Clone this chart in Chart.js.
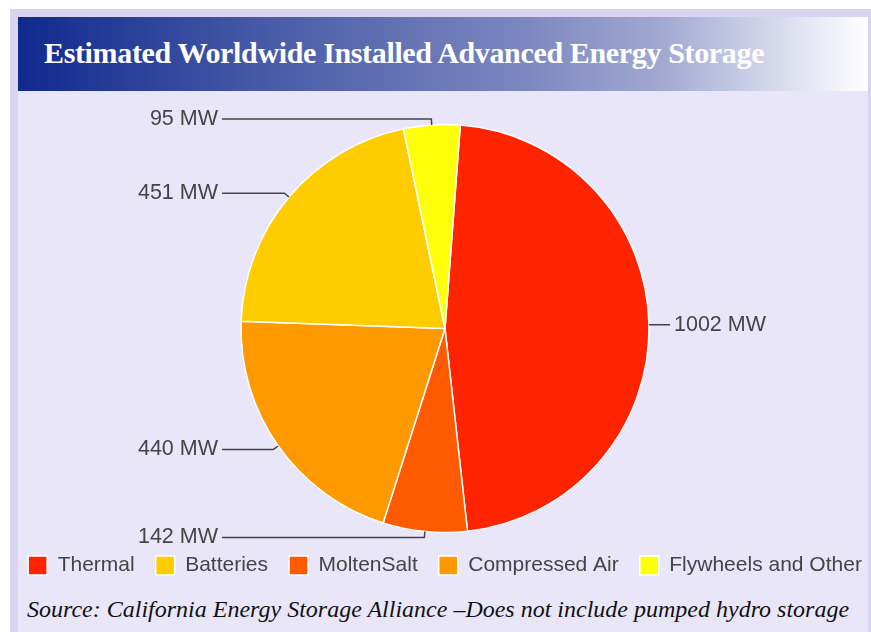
<!DOCTYPE html>
<html>
<head>
<meta charset="utf-8">
<script src="https://cdn.jsdelivr.net/npm/chart.js@4"></script>
<style>
    body { margin: 0; background: #fff; width: 871px; height: 632px; overflow: hidden; }
    .frame { position: absolute; left: 10px; top: 9px; width: 850px; height: 640px; padding: 8px; background: #d8d4f2; }
    .panel { position: relative; width: 850px; height: 640px; background: #e9e6f9; }
    .title-bar {
        height: 74px;
        background: linear-gradient(to right, #10298d 0%, #4a5ca8 30%, #7d88c0 60%, #a2aad2 76%, #d6d9ec 89%, #ffffff 100%);
    }
    .title-bar h1 {
        margin: 0; padding: 19px 0 0 26px;
        font: bold 30px "Liberation Serif", "Times New Roman", serif;
        letter-spacing: -0.35px; color: #fff;
    }
    /* canvas a bit wider than the panel so the legend fits in one row */
    .chart-box { position: relative; left: -20px; width: 890px; height: 495px; }
    .source {
        position: absolute; left: 9px; top: 579px;
        font: italic 24px "Liberation Serif", "Times New Roman", serif; color: #111;
    }
</style>
</head>
<body>
<div class="frame">
    <div class="panel">
        <div class="title-bar"><h1>Estimated Worldwide Installed Advanced Energy Storage</h1></div>
        <div class="chart-box"><canvas id="storage-pie"></canvas></div>
        <div class="source">Source: California Energy Storage Alliance –Does not include pumped hydro storage</div>
    </div>
</div>
<script>
// slices in clockwise order from the top
const categories = ['Thermal', 'MoltenSalt', 'Compressed Air', 'Batteries', 'Flywheels and Other'];
const capacityMW = [1002, 142, 440, 451, 95];
const sliceColors = ['#ff2400', '#ff5a00', '#ff9900', '#ffcc00', '#ffff0a'];
const legendOrder = ['Thermal', 'Batteries', 'MoltenSalt', 'Compressed Air', 'Flywheels and Other'];

// labels with leader lines, like the old Google chart
const leaderLabels = {
    id: 'leaderLabels',
    afterDatasetsDraw(chart) {
        const ctx = chart.ctx;
        const arcs = chart.getDatasetMeta(0).data;
        ctx.save();
        ctx.font = '21.5px "Liberation Sans", Arial, sans-serif';
        ctx.fillStyle = '#444';
        ctx.strokeStyle = '#444';
        ctx.lineWidth = 1.5;
        ctx.textBaseline = 'middle';
        arcs.forEach((arc, i) => {
            const { x, y, outerRadius, startAngle, endAngle } = arc.getProps(['x', 'y', 'outerRadius', 'startAngle', 'endAngle'], true);
            const mid = (startAngle + endAngle) / 2;
            const cos = Math.cos(mid), sin = Math.sin(mid);
            const px = x + cos * outerRadius, py = y + sin * outerRadius;
            const ex = x + cos * (outerRadius + 6), ey = y + sin * (outerRadius + 6);
            const right = cos >= 0;
            const lineEnd = right ? x + outerRadius + 21 : x - outerRadius - 19;
            ctx.beginPath();
            ctx.moveTo(px, py);
            ctx.lineTo(ex, ey);
            ctx.lineTo(lineEnd, ey);
            ctx.stroke();
            ctx.textAlign = right ? 'left' : 'right';
            const label = capacityMW[i] + ' MW';
            ctx.fillText(label, right ? lineEnd + 4 : lineEnd - 4, ey);
        });
        ctx.restore();
    }
};

new Chart(document.getElementById('storage-pie').getContext('2d'), {
    type: 'pie',
    data: {
        labels: categories,
        datasets: [{
            data: capacityMW,
            backgroundColor: sliceColors,
            borderColor: '#ffffff',
            borderWidth: 1.5,
            radius: 204
        }]
    },
    options: {
        responsive: true,
        maintainAspectRatio: false,
        animation: false,
        rotation: 4.3,
        layout: { padding: { top: 32, left: 4 } },
        plugins: {
            tooltip: { enabled: false },
            legend: {
                position: 'bottom',
                labels: {
                    boxWidth: 19,
                    boxHeight: 19,
                    padding: 21,
                    color: '#444',
                    font: { family: '"Liberation Sans", Arial, sans-serif', size: 21 },
                    sort: (a, b) => legendOrder.indexOf(a.text) - legendOrder.indexOf(b.text)
                }
            }
        }
    },
    plugins: [leaderLabels]
});
</script>
</body>
</html>
